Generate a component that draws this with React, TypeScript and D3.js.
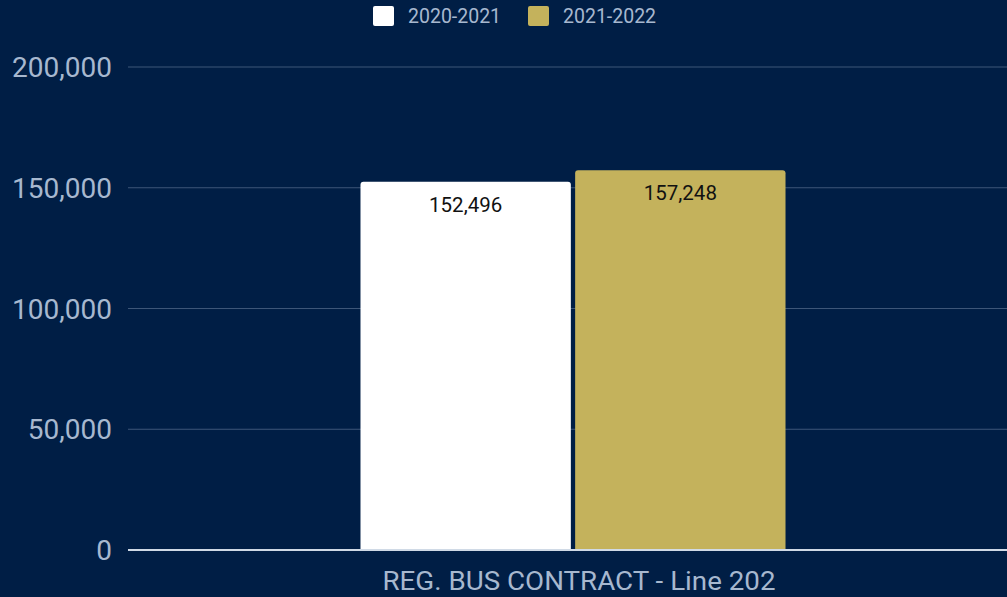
import * as d3 from 'd3';

const categories = ['REG. BUS CONTRACT - Line 202'];
const seriesNames = ['2020-2021', '2021-2022'];
const seriesValues = [152496, 157248];
const yTicks = [0, 50000, 100000, 150000, 200000];

const COLORS = ['#ffffff', '#c4b25c'];
const BG = '#001e45';
const TEXT = '#a7b8cf';

export default function App() {
  const width = 1007;
  const height = 597;
  const margin = { top: 67, right: -11, bottom: 47, left: 128 };
  const innerW = width - margin.left - margin.right;
  const innerH = height - margin.top - margin.bottom;

  const x0 = d3.scaleBand<string>().domain(categories).range([0, innerW]).paddingInner(0).paddingOuter(0.547);
  const x1 = d3.scaleBand<string>().domain(seriesNames).range([0, x0.bandwidth()]).paddingInner(0.02);
  const y = d3.scaleLinear().domain([0, 200000]).range([innerH, 0]);
  const fmt = d3.format(',');

  const r = 3;
  const barPath = (x: number, yTop: number, w: number, yBottom: number) =>
    `M${x},${yBottom}V${yTop + r}Q${x},${yTop} ${x + r},${yTop}H${x + w - r}Q${x + w},${yTop} ${x + w},${yTop + r}V${yBottom}Z`;

  return (
    <svg width={width} height={height} style={{ position: 'absolute', left: 0, top: 0, background: BG, fontFamily: 'Roboto, sans-serif' }}>
      <rect width={width} height={height} fill={BG} />
      {/* legend */}
      <g transform="translate(373,6)">
        {seriesNames.map((s, i) => (
          <g key={s} transform={`translate(${i * 155},0)`}>
            <rect width={21} height={20} rx={2} fill={COLORS[i]} />
            <text x={35} y={17} fontSize={19.5} fill={TEXT}>{s}</text>
          </g>
        ))}
      </g>
      <g transform={`translate(${margin.left},${margin.top})`}>
        {yTicks.map((t) => (
          <g key={t}>
            {t !== 0 && <line x1={0} x2={innerW} y1={y(t)} y2={y(t)} stroke="#3d5678" strokeWidth={1} />}
            <text x={-16} y={y(t)} dy="0.36em" textAnchor="end" fontSize={28} fill={TEXT}>{fmt(t)}</text>
          </g>
        ))}
        {categories.map((c) => (
          <g key={c} transform={`translate(${x0(c)},0)`}>
            {seriesNames.map((s, i) => {
              const bx = x1(s) ?? 0;
              const bw = x1.bandwidth();
              const yt = y(seriesValues[i]);
              return (
                <g key={s}>
                  <path d={barPath(bx, yt, bw, innerH)} fill={COLORS[i]} />
                  <text x={bx + bw / 2} y={yt + 30} textAnchor="middle" fontSize={20.5} fill="#111">{fmt(seriesValues[i])}</text>
                </g>
              );
            })}
            <text x={x0.bandwidth() / 2 + 6} y={innerH + 40} textAnchor="middle" fontSize={26} fill={TEXT} textLength={393} lengthAdjust="spacingAndGlyphs">{c}</text>
          </g>
        ))}
        <line x1={0} x2={innerW} y1={innerH} y2={innerH} stroke="#d0dae6" strokeWidth={2} />
      </g>
    </svg>
  );
}
